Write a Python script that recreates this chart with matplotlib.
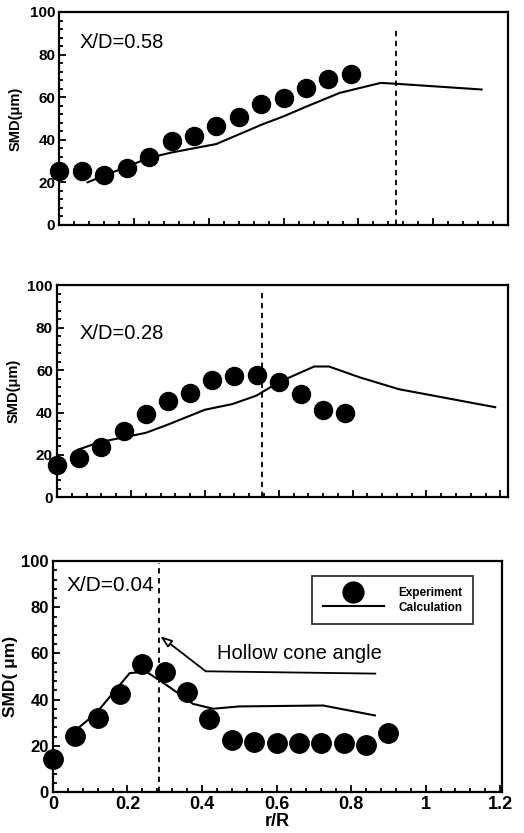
import matplotlib
matplotlib.use("Agg")
import matplotlib.pyplot as plt
from matplotlib.ticker import MultipleLocator

plt.rcParams['font.family'] = ['Liberation Sans', 'DejaVu Sans']

# ---------------- data ----------------
exp_x = [0.00, 0.06, 0.12, 0.18, 0.24, 0.30, 0.36, 0.42, 0.48, 0.54, 0.60, 0.66, 0.72, 0.78, 0.84, 0.90]

exp_058 = [25.3, 25.3, 23.4, 26.9, 32.0, 39.5, 41.9, 46.4, 50.8, 56.7, 59.8, 64.4, 68.4, 70.8]
calc_058_x = [0.075, 0.24, 0.30, 0.42, 0.54, 0.60, 0.66, 0.75, 0.86, 0.90, 1.13]
calc_058_y = [20.0, 31.5, 34.0, 38.0, 47.0, 51.0, 55.5, 62.0, 66.7, 66.3, 63.6]
cone_058 = 0.90

exp_028 = [15.3, 18.4, 23.6, 31.5, 39.4, 45.2, 49.1, 55.1, 57.0, 57.8, 54.6, 48.5, 41.3, 39.7]
calc_028_x = [0.057, 0.115, 0.24, 0.30, 0.40, 0.475, 0.54, 0.60, 0.696, 0.736, 0.817, 0.925, 1.186]
calc_028_y = [22.5, 26.0, 30.4, 34.3, 41.3, 44.0, 48.0, 54.3, 61.7, 61.7, 56.7, 51.0, 42.5]
cone_028 = 0.556

exp_004 = [14.4, 24.2, 32.2, 42.3, 55.6, 52.2, 43.3, 31.5, 22.7, 21.9, 21.4, 21.4, 21.2, 21.4, 20.6, 25.5]
calc_004_x = [0.063, 0.116, 0.206, 0.25, 0.30, 0.376, 0.43, 0.50, 0.725, 0.864]
calc_004_y = [27.1, 34.2, 51.5, 52.2, 46.9, 38.2, 36.1, 37.1, 37.5, 33.2]
cone_004 = 0.285

labels = ["X/D=0.58", "X/D=0.28", "X/D=0.04"]
yticks = [0, 20, 40, 60, 80, 100]
xticks = [0, 0.2, 0.4, 0.6, 0.8, 1, 1.2]
xticklabels = ["0", "0.2", "0.4", "0.6", "0.8", "1", "1.2"]
leader_x = [0.865, 0.41]
leader_y = [51.3, 52.3]
arrow_tip = (0.288, 67.5)
note_text = "Hollow cone angle"

# ---------------- figure ----------------
fig = plt.figure(figsize=(5.24, 8.33), dpi=100)
ax1 = fig.add_axes([0.1135, 0.730, 0.8555, 0.2556])
ax2 = fig.add_axes([0.109, 0.403, 0.860, 0.2545])
ax3 = fig.add_axes([0.101, 0.049, 0.857, 0.2775])


def style(ax, xmax, lab_size, show_x):
    ax.set_xlim(0, xmax)
    ax.set_ylim(0, 100)
    ax.set_yticks(yticks)
    ax.yaxis.set_minor_locator(MultipleLocator(4))
    ax.set_xticks(xticks[:-1] if xmax < 1.2 else xticks)
    ax.xaxis.set_minor_locator(MultipleLocator(0.04))
    ax.tick_params(which='both', direction='in', top=False, right=False, width=1.3)
    ax.tick_params(which='major', length=5, pad=3)
    ax.tick_params(which='minor', length=3)
    for s in ax.spines.values():
        s.set_linewidth(1.6)
    for t in ax.get_yticklabels():
        t.set_fontweight('bold')
        t.set_fontsize(lab_size)
    if show_x:
        ax.set_xticklabels(xticklabels)
        for t in ax.get_xticklabels():
            t.set_fontweight('bold')
            t.set_fontsize(lab_size + 1)
    else:
        ax.set_xticklabels([])


# top panel
ax1.plot(exp_x[:len(exp_058)], exp_058, 'o', color='black', ms=13, clip_on=False, zorder=3)
ax1.plot(calc_058_x, calc_058_y, '-', color='black', lw=1.5)
ax1.plot([cone_058, cone_058], [0, 93], '--', color='black', lw=1.3, dashes=(3, 2.5))
style(ax1, 1.2, 11, False)
ax1.set_ylabel("SMD(μm)", fontsize=10.5, fontweight='bold', labelpad=5)
ax1.text(0.054, 85.5, labels[0], fontsize=14.5, va='center', ha='left')

# middle panel
ax2.plot(exp_x[:len(exp_028)], exp_028, 'o', color='black', ms=13, clip_on=False, zorder=3)
ax2.plot(calc_028_x, calc_028_y, '-', color='black', lw=1.5)
ax2.plot([cone_028, cone_028], [0, 97], '--', color='black', lw=1.3, dashes=(3, 2.5))
style(ax2, 1.22, 11, False)
ax2.set_ylabel("SMD(μm)", fontsize=10.5, fontweight='bold', labelpad=5)
ax2.text(0.06, 77.5, labels[1], fontsize=14.5, va='center', ha='left')

# bottom panel
ax3.plot(exp_x, exp_004, 'o', color='black', ms=14, clip_on=False, zorder=3, label="Experiment")
ax3.plot(calc_004_x, calc_004_y, '-', color='black', lw=1.5, label="Calculation")
ax3.plot([cone_004, cone_004], [0, 99], '--', color='black', lw=1.3, dashes=(3, 2.5))
style(ax3, 1.205, 12, True)
ax3.set_ylabel("SMD( μm)", fontsize=12.5, fontweight='bold', labelpad=2)
ax3.set_xlabel("r/R", fontsize=13, fontweight='bold', labelpad=0)
ax3.text(0.036, 89.5, labels[2], fontsize=15, va='center', ha='left')
ax3.plot(leader_x, leader_y, '-', color='black', lw=1.3)
ax3.annotate("", xy=arrow_tip, xytext=(leader_x[-1], leader_y[-1]),
             arrowprops=dict(arrowstyle='-|>,head_length=0.7,head_width=0.25',
                             fc='white', ec='black', lw=1.3,
                             shrinkA=0, shrinkB=0))
ax3.text(0.44, 60, note_text, fontsize=14.5, va='center', ha='left')
leg = ax3.legend(loc='upper right', bbox_to_anchor=(0.935, 0.935), frameon=True,
                 fancybox=False, edgecolor='black',
                 prop={'weight': 'bold', 'size': 8.5}, handlelength=5.2,
                 borderpad=0.9, labelspacing=0.25, handletextpad=1.2,
                 borderaxespad=0.0)
leg.get_frame().set_linewidth(1.3)
leg.legend_handles[0].set_markersize(15)

fig.savefig("out.png", dpi=100)
